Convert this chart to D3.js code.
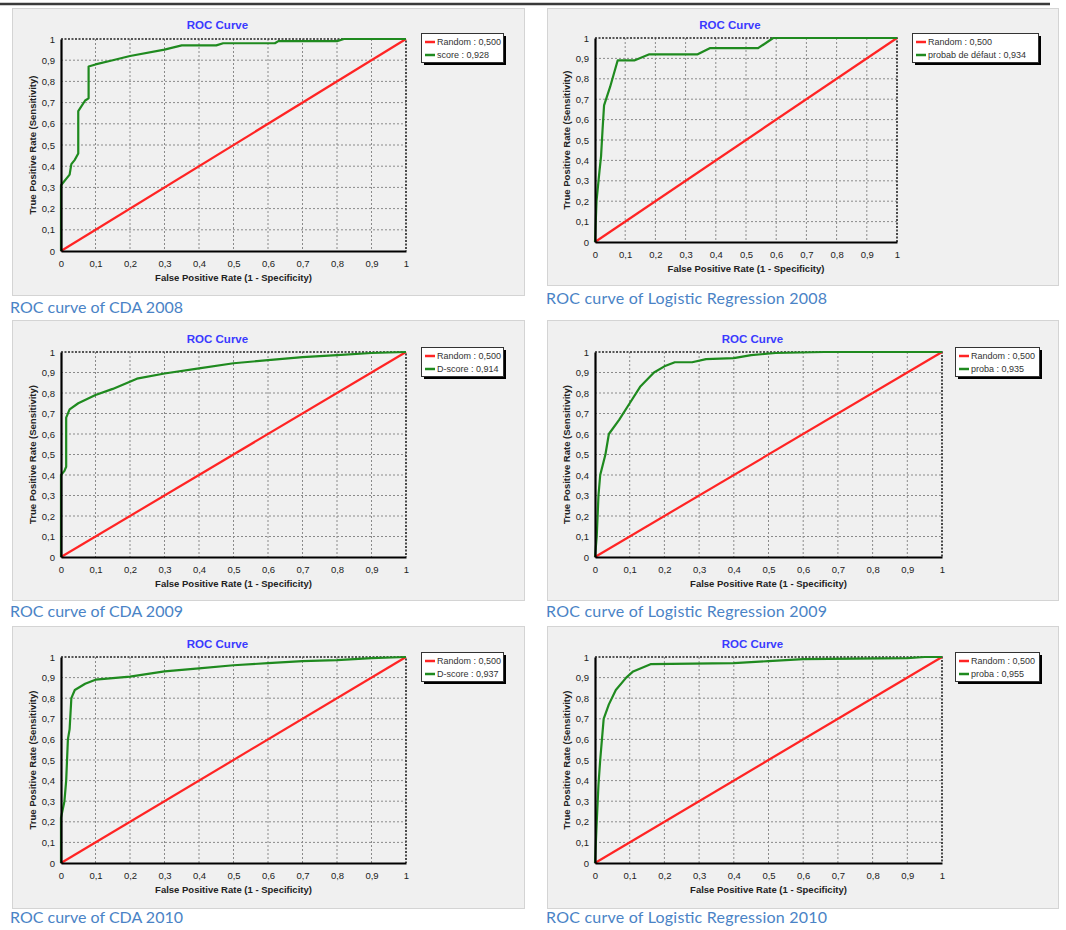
<!DOCTYPE html>
<html>
<head>
<meta charset="utf-8">
<script src="https://cdn.jsdelivr.net/npm/d3@7"></script>
<style>
  body { margin: 0; background: #ffffff; }
  svg { display: block; }
</style>
</head>
<body>
<svg id="sheet" width="1066" height="930"></svg>
<script>
// ---- data ----
const tickValues = [0, 0.1, 0.2, 0.3, 0.4, 0.5, 0.6, 0.7, 0.8, 0.9, 1];

const captions = [
  "ROC curve of CDA 2008",
  "ROC curve of Logistic Regression 2008",
  "ROC curve of CDA 2009",
  "ROC curve of Logistic Regression 2009",
  "ROC curve of CDA 2010",
  "ROC curve of Logistic Regression 2010"
];

const seriesNames = ["score", "probab de défaut", "D-score", "proba", "D-score", "proba"];
const aucValues = [0.928, 0.934, 0.914, 0.935, 0.937, 0.955];
const randomAuc = 0.5;
const randomLine = [[0, 0], [1, 1]];

// ROC points: [false positive rate, true positive rate]
const rocCda2008 = [
  [0, 0], [0, 0.31], [0.025, 0.36], [0.03, 0.41], [0.04, 0.43], [0.05, 0.46],
  [0.05, 0.66], [0.07, 0.71], [0.08, 0.72], [0.08, 0.87], [0.1, 0.88],
  [0.15, 0.9], [0.2, 0.92], [0.3, 0.95], [0.35, 0.97], [0.45, 0.97],
  [0.47, 0.98], [0.62, 0.98], [0.63, 0.99], [0.8, 0.99], [0.82, 1], [1, 1]
];
const rocLogit2008 = [
  [0, 0], [0.005, 0.2], [0.015, 0.35], [0.02, 0.42], [0.025, 0.55], [0.03, 0.67],
  [0.05, 0.76], [0.075, 0.89], [0.13, 0.89], [0.18, 0.92], [0.34, 0.92],
  [0.38, 0.95], [0.54, 0.95], [0.59, 1], [1, 1]
];
const rocCda2009 = [
  [0, 0], [0, 0.4], [0.01, 0.42], [0.015, 0.44], [0.015, 0.68], [0.025, 0.72],
  [0.05, 0.75], [0.1, 0.79], [0.15, 0.82], [0.22, 0.87], [0.3, 0.895],
  [0.4, 0.92], [0.5, 0.945], [0.6, 0.96], [0.7, 0.975], [0.8, 0.985],
  [0.9, 0.995], [1, 1]
];
const rocLogit2009 = [
  [0, 0], [0.005, 0.1], [0.01, 0.3], [0.015, 0.4], [0.03, 0.5], [0.04, 0.6],
  [0.07, 0.67], [0.1, 0.75], [0.13, 0.83], [0.17, 0.9], [0.2, 0.93],
  [0.23, 0.95], [0.28, 0.95], [0.32, 0.965], [0.4, 0.97], [0.45, 0.985],
  [0.52, 0.995], [0.66, 1], [1, 1]
];
const rocCda2010 = [
  [0, 0], [0, 0.22], [0.01, 0.3], [0.015, 0.4], [0.02, 0.6], [0.025, 0.65],
  [0.03, 0.8], [0.04, 0.84], [0.07, 0.87], [0.1, 0.89], [0.2, 0.905],
  [0.3, 0.93], [0.4, 0.945], [0.5, 0.96], [0.6, 0.97], [0.7, 0.98],
  [0.8, 0.985], [0.9, 0.995], [1, 1]
];
const rocLogit2010 = [
  [0, 0], [0.005, 0.2], [0.01, 0.38], [0.015, 0.5], [0.025, 0.7], [0.04, 0.77],
  [0.06, 0.84], [0.09, 0.9], [0.11, 0.93], [0.16, 0.965], [0.4, 0.97],
  [0.5, 0.98], [0.6, 0.99], [0.9, 0.995], [0.95, 1], [1, 1]
];
const rocCurves = [rocCda2008, rocLogit2008, rocCda2009, rocLogit2009, rocCda2010, rocLogit2010];

// ---- layout of the six chart panels ----
// box: [x0, y0, x1, y1] of grey frame, plot: [left, top, right, bottom],
// legend: [x, y, w], caption: [x, baseline, width]
const layout = [
  { box: [12, 8, 524, 295],   plot: [61, 39, 406, 251],   legend: [421, 33, 82],  caption: [10, 313, 173],  titleY: 29 },
  { box: [547, 8, 1058, 285], plot: [595, 38, 897, 242],  legend: [912, 33, 126], caption: [546, 304, 281], titleY: 29 },
  { box: [12, 320, 524, 600], plot: [61, 352, 406, 557],  legend: [421, 347, 82], caption: [10, 617, 173],  titleY: 343 },
  { box: [547, 320, 1058, 600], plot: [595, 352, 942, 557], legend: [955, 347, 84], caption: [546, 617, 281], titleY: 343 },
  { box: [12, 626, 524, 908], plot: [61, 657, 406, 863],  legend: [421, 652, 82], caption: [10, 923, 173],  titleY: 648 },
  { box: [547, 626, 1058, 908], plot: [595, 657, 942, 863], legend: [955, 652, 84], caption: [546, 923, 281], titleY: 648 }
];

const frLocale = d3.formatLocale({ decimal: ",", thousands: " ", grouping: [3], currency: ["", " €"] });
const tickFmt = frLocale.format(".1~f");
const aucFmt = frLocale.format(".3f");

const RED = "#ff2424";
const GREEN = "#1f8a1f";
const AXIS_FONT = "'Liberation Sans', Arial, sans-serif";

const svg = d3.select("#sheet");

// page rule at the very top
svg.append("line")
  .attr("x1", 0).attr("x2", 1050).attr("y1", 4).attr("y2", 4)
  .attr("stroke", "#3a3a3a").attr("stroke-width", 2.5);

layout.forEach((L, i) => {
  const g = svg.append("g");
  const [bx0, by0, bx1, by1] = L.box;
  g.append("rect")
    .attr("x", bx0 + 0.5).attr("y", by0 + 0.5)
    .attr("width", bx1 - bx0).attr("height", by1 - by0)
    .attr("fill", "#f0f0f0").attr("stroke", "#d4d4d4");

  const [pl, pt, pr, pb] = L.plot;
  const x = d3.scaleLinear().domain([0, 1]).range([pl, pr]);
  const y = d3.scaleLinear().domain([0, 1]).range([pb, pt]);

  // dotted grid
  const grid = g.append("g").attr("stroke", "#8a8a8a").attr("stroke-width", 1)
    .attr("stroke-dasharray", "2,2").attr("fill", "none");
  tickValues.slice(1, -1).forEach(t => {
    grid.append("line").attr("x1", x(t)).attr("x2", x(t)).attr("y1", pt).attr("y2", pb);
    grid.append("line").attr("x1", pl).attr("x2", pr).attr("y1", y(t)).attr("y2", y(t));
  });

  // top and right frame (dashed)
  g.append("path")
    .attr("d", `M${pl},${pt}H${pr}V${pb}`)
    .attr("fill", "none").attr("stroke", "#222").attr("stroke-width", 1.6)
    .attr("stroke-dasharray", "2,1.5");

  const line = d3.line().x(d => x(d[0])).y(d => y(d[1]));

  g.append("path").datum(randomLine).attr("d", line)
    .attr("fill", "none").attr("stroke", RED).attr("stroke-width", 2.2);

  g.append("path").datum(rocCurves[i]).attr("d", line)
    .attr("fill", "none").attr("stroke", GREEN).attr("stroke-width", 2.2)
    .attr("stroke-linejoin", "round");

  // axes
  const xAxis = d3.axisBottom(x).tickValues(tickValues).tickFormat(tickFmt).tickSize(0).tickPadding(9);
  const yAxis = d3.axisLeft(y).tickValues(tickValues).tickFormat(tickFmt).tickSize(0).tickPadding(6);

  const gx = g.append("g").attr("transform", `translate(0,${pb})`).call(xAxis);
  const gy = g.append("g").attr("transform", `translate(${pl},0)`).call(yAxis);
  [gx, gy].forEach(a => {
    a.select(".domain").attr("stroke", "#000").attr("stroke-width", 2.2);
    a.selectAll("text").attr("font-family", AXIS_FONT).attr("font-size", 9.5).attr("fill", "#222");
  });

  // title
  g.append("text")
    .attr("x", (pl + pr) / 2 - 16).attr("y", L.titleY)
    .attr("text-anchor", "middle")
    .attr("font-family", AXIS_FONT).attr("font-size", 11.5).attr("font-weight", "bold")
    .attr("fill", "#3a3aff")
    .text("ROC Curve");

  // axis titles
  g.append("text")
    .attr("x", (pl + pr) / 2).attr("y", pb + 30)
    .attr("text-anchor", "middle")
    .attr("font-family", AXIS_FONT).attr("font-size", 9.5).attr("font-weight", "bold")
    .attr("fill", "#222")
    .text("False Positive Rate (1 - Specificity)");

  g.append("text")
    .attr("transform", `translate(${pl - 25},${(pt + pb) / 2}) rotate(-90)`)
    .attr("text-anchor", "middle")
    .attr("font-family", AXIS_FONT).attr("font-size", 9.5).attr("font-weight", "bold")
    .attr("fill", "#222")
    .text("True Positive Rate (Sensitivity)");

  // legend
  const [lx, ly, lw] = L.legend;
  const lh = 29;
  const lg = g.append("g");
  lg.append("rect").attr("x", lx + 3).attr("y", ly + 3).attr("width", lw).attr("height", lh).attr("fill", "#000");
  lg.append("rect").attr("x", lx + 0.5).attr("y", ly + 0.5).attr("width", lw).attr("height", lh)
    .attr("fill", "#fff").attr("stroke", "#333").attr("stroke-width", 1);
  const entries = [
    { color: RED, label: `Random : ${aucFmt(randomAuc)}` },
    { color: GREEN, label: `${seriesNames[i]} : ${aucFmt(aucValues[i])}` }
  ];
  entries.forEach((e, k) => {
    const yy = ly + 9 + k * 13;
    lg.append("line").attr("x1", lx + 4).attr("x2", lx + 14).attr("y1", yy).attr("y2", yy)
      .attr("stroke", e.color).attr("stroke-width", 2.5);
    lg.append("text").attr("x", lx + 16).attr("y", yy + 3)
      .attr("font-family", AXIS_FONT).attr("font-size", 9).attr("fill", "#333")
      .text(e.label);
  });

  // caption under the panel
  const [cx, cy, cw] = L.caption;
  g.append("text")
    .attr("x", cx).attr("y", cy)
    .attr("font-family", "Lato, 'Open Sans', sans-serif").attr("font-size", 16)
    .attr("fill", "#4a83c6")
    .attr("textLength", cw).attr("lengthAdjust", "spacing")
    .text(captions[i]);
});
</script>
</body>
</html>
